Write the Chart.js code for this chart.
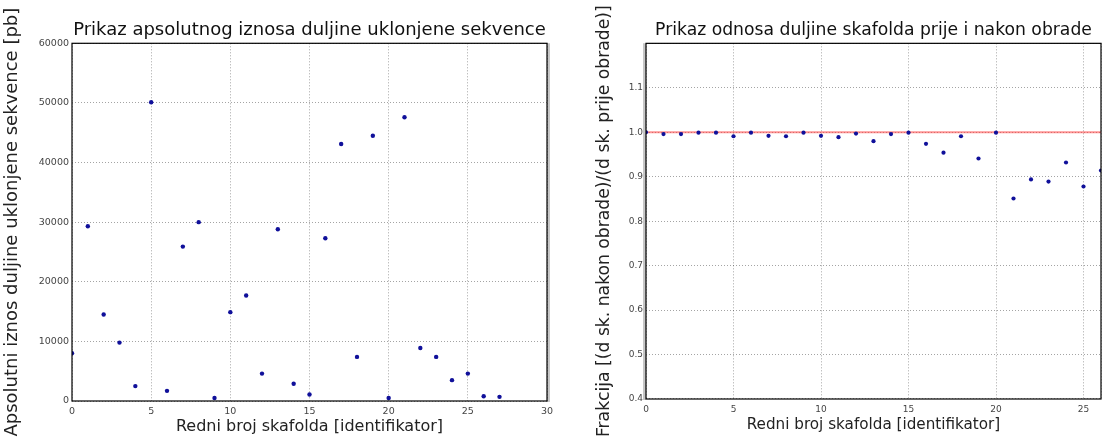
<!DOCTYPE html>
<html>
<head>
<meta charset="utf-8">
<script src="https://cdn.jsdelivr.net/npm/chart.js@4.4.1/dist/chart.umd.min.js"></script>
<style>
  html, body { margin: 0; padding: 0; background: #fff; overflow: hidden; }
  body { width: 1103px; height: 439px; position: relative; }
  .box { position: absolute; top: 0; height: 439px; }
  #leftBox { left: 0; width: 560px; }
  #rightBox { left: 590px; width: 516px; }
</style>
</head>
<body>
<div class="box" id="leftBox"><canvas id="absChart"></canvas></div>
<div class="box" id="rightBox"><canvas id="ratioChart"></canvas></div>
<script>
// redni broj skafolda
const scaffoldIds = [0, 1, 2, 3, 4, 5, 6, 7, 8, 9, 10, 11, 12, 13, 14, 15, 16, 17, 18, 19, 20, 21, 22, 23, 24, 25, 26, 27];
// apsolutni iznos uklonjene sekvence [pb]
const removedLength = [8000, 29300, 14500, 9800, 2500, 50100, 1700, 25900, 30000, 500, 14900, 17700, 4600, 28800,
    2900, 1100, 27300, 43100, 7400, 44500, 500, 47600, 8900, 7400, 3500, 4600, 800, 700];
// frakcija d(nakon)/d(prije)
const ratioIds = [0, 1, 2, 3, 4, 5, 6, 7, 8, 9, 10, 11, 12, 13, 14, 15, 16, 17, 18, 19, 20, 21, 22, 23, 24, 25, 26];
const ratioValues = [1.0, 0.996, 0.996, 0.999, 0.999, 0.991, 0.999, 0.992, 0.991, 0.999, 0.992, 0.989, 0.997, 0.980,
    0.996, 0.999, 0.974, 0.954, 0.991, 0.941, 0.999, 0.851, 0.894, 0.889, 0.932, 0.878, 0.914];
const refLineX = [0, 27];
const refLineY = [1.0, 1.0];

const font = "'DejaVu Sans', 'Liberation Sans', sans-serif";
const dotColor = '#10109a';

function toPoints(xs, ys) {
    return xs.map((x, i) => ({ x: x, y: ys[i] }));
}

// okvir oko podrucja grafa
const framePlugin = {
    id: 'frame',
    afterDraw(chart, args, opts) {
        const a = chart.chartArea;
        const ctx = chart.ctx;
        ctx.save();
        ctx.strokeStyle = '#000';
        ctx.lineWidth = 1.2;
        ctx.strokeRect(a.left, a.top, a.right - a.left, a.bottom - a.top);
        if (opts.shadeSide) {
            ctx.strokeStyle = 'rgba(0,0,0,0.22)';
            ctx.lineWidth = 3;
            const x = opts.shadeSide === 'left' ? a.left - 1.5 : a.right + 1.5;
            ctx.beginPath();
            ctx.moveTo(x, a.top);
            ctx.lineTo(x, a.bottom + 1);
            ctx.stroke();
        }
        ctx.restore();
    }
};

function gridOpts() {
    return {
        color: 'rgba(0,0,0,0.45)',
        lineWidth: 0.8,
        drawTicks: false
    };
}

function buildOptions(cfg) {
    return {
        responsive: true,
        maintainAspectRatio: false,
        animation: false,
        layout: { padding: { right: cfg.padRight, left: 0, top: 0, bottom: 0 } },
        plugins: {
            legend: { display: false },
            tooltip: { enabled: false },
            title: {
                display: true,
                text: cfg.title,
                fullSize: false,
                color: '#111',
                font: { family: font, size: cfg.titleSize, weight: 'normal' },
                padding: { top: cfg.titleTop, bottom: cfg.titleBottom }
            },
            frame: { shadeSide: cfg.shadeSide }
        },
        scales: {
            x: {
                type: 'linear',
                min: cfg.xRange[0],
                max: cfg.xRange[1],
                border: { display: false, dash: [1, 2] },
                grid: gridOpts(),
                ticks: {
                    stepSize: 5,
                    padding: cfg.xTickPad,
                    color: '#444',
                    font: { family: font, size: cfg.tickSize },
                    maxRotation: 0,
                    callback: cfg.xFormat
                },
                title: {
                    display: true,
                    text: 'Redni broj skafolda [identifikator]',
                    color: '#222',
                    font: { family: font, size: cfg.xTitleSize },
                    padding: { top: 0, bottom: cfg.xTitleBottom }
                },
                afterFit(scale) { scale.height = cfg.xAxisHeight; }
            },
            y: {
                type: 'linear',
                min: cfg.yRange[0],
                max: cfg.yRange[1],
                border: { display: false, dash: [1, 2] },
                grid: gridOpts(),
                ticks: {
                    stepSize: cfg.yStep,
                    padding: 3,
                    color: '#444',
                    font: { family: font, size: cfg.tickSize },
                    callback: cfg.yFormat
                },
                title: {
                    display: true,
                    text: cfg.yTitle,
                    color: '#222',
                    font: { family: font, size: cfg.yTitleSize },
                    padding: { top: cfg.yTitleTop, bottom: 0 }
                },
                afterFit(scale) { scale.width = cfg.yAxisWidth; }
            }
        }
    };
}

// Apsolutni iznos
new Chart(document.getElementById('absChart').getContext('2d'), {
    type: 'scatter',
    data: {
        datasets: [{
            data: toPoints(scaffoldIds, removedLength),
            backgroundColor: dotColor,
            borderColor: dotColor,
            pointRadius: 2.2,
            borderWidth: 0
        }]
    },
    options: buildOptions({
        title: 'Prikaz apsolutnog iznosa duljine uklonjene sekvence',
        titleSize: 18, titleTop: 20, titleBottom: 1.7,
        yTitle: 'Apsolutni iznos duljine uklonjene sekvence [pb]',
        yTitleSize: 18, yTitleTop: 1.5,
        xTitleSize: 16, xTitleBottom: 2.4,
        tickSize: 9.5, xTickPad: 5,
        xRange: [0, 30], yRange: [0, 60000], yStep: 10000,
        xFormat: v => String(v),
        yFormat: v => String(v),
        yAxisWidth: 72, xAxisHeight: 38, padRight: 13,
        shadeSide: 'right'
    }),
    plugins: [framePlugin]
});

// Odnos duljina
new Chart(document.getElementById('ratioChart').getContext('2d'), {
    type: 'scatter',
    data: {
        datasets: [{
            type: 'line',
            data: toPoints(refLineX, refLineY),
            borderColor: 'rgba(255,60,60,0.55)',
            borderWidth: 2,
            pointRadius: 0,
            fill: false,
            order: 2
        }, {
            data: toPoints(ratioIds, ratioValues),
            backgroundColor: dotColor,
            borderColor: dotColor,
            pointRadius: 2.1,
            borderWidth: 0,
            order: 1
        }]
    },
    options: buildOptions({
        title: 'Prikaz odnosa duljine skafolda prije i nakon obrade',
        titleSize: 17.2, titleTop: 20, titleBottom: 2.7,
        yTitle: 'Frakcija [(d sk. nakon obrade)/(d sk. prije obrade)]',
        yTitleSize: 17.2, yTitleTop: 4.5,
        xTitleSize: 15.2, xTitleBottom: 4.5,
        tickSize: 9, xTickPad: 5,
        xRange: [0, 26], yRange: [0.4, 1.2], yStep: 0.1,
        xFormat: v => (v > 25.5 ? '' : String(v)),
        yFormat: v => (v > 1.15 ? '' : v.toFixed(1)),
        yAxisWidth: 56, xAxisHeight: 40, padRight: 2,
        shadeSide: 'left'
    }),
    plugins: [framePlugin]
});
</script>
</body>
</html>
